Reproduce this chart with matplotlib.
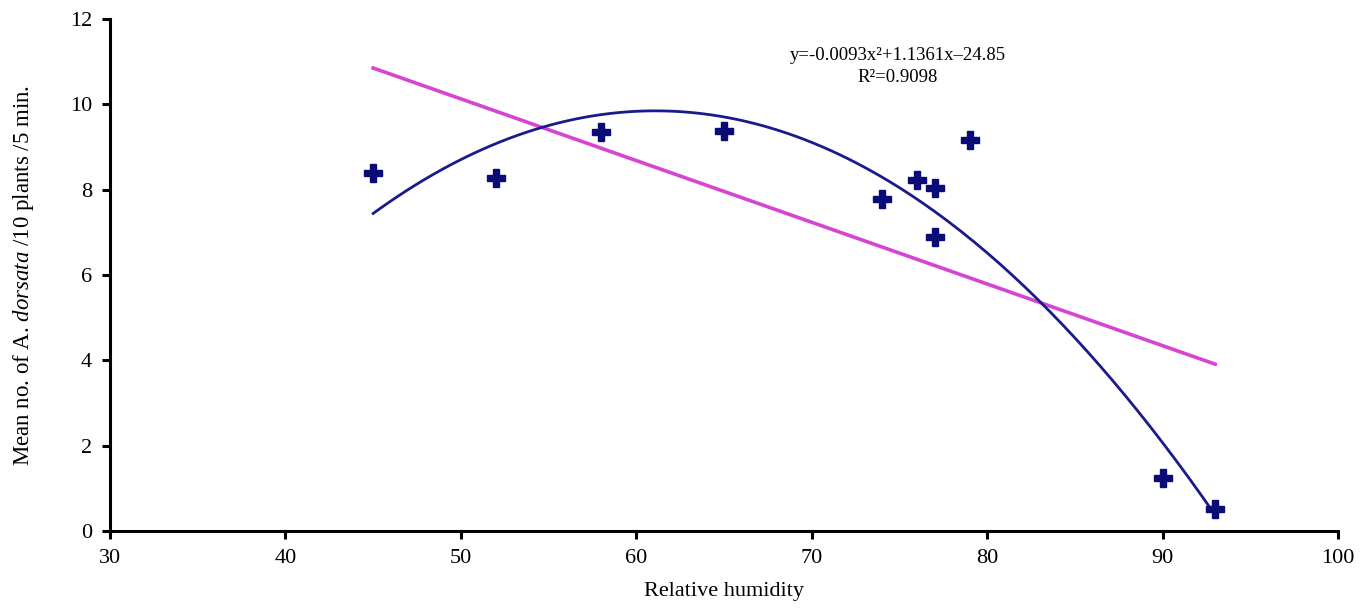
import numpy as np
import matplotlib
matplotlib.use("Agg")
import matplotlib.pyplot as plt

# ===== data =====
humidity = [45, 52, 58, 65, 74, 76, 77, 77, 79, 90, 93]
mean_bees = [8.4, 8.28, 9.35, 9.37, 7.78, 8.22, 8.04, 6.89, 9.17, 1.25, 0.52]

# quadratic trend as printed on the chart
quad_coef = [-0.0093, 1.1361, -24.85]
r_squared = 0.9098

x_ticks = [30, 40, 50, 60, 70, 80, 90, 100]
y_ticks = [0, 2, 4, 6, 8, 10, 12]

# ===== style =====
plt.rcParams['font.family'] = ['Liberation Serif', 'DejaVu Serif']
plt.rcParams['mathtext.fontset'] = 'custom'
plt.rcParams['mathtext.rm'] = 'Liberation Serif'
plt.rcParams['mathtext.it'] = 'Liberation Serif:italic'

fig = plt.figure(figsize=(13.62, 6.12), dpi=100)
ax = fig.add_axes([0.0808, 0.1324, 0.9016, 0.8366])

# ___trend lines___
xs = np.linspace(min(humidity), max(humidity), 200)
lin_coef = np.polyfit(humidity, mean_bees, 1)
ax.plot(xs, np.polyval(lin_coef, xs), color='#d445d4', lw=2.6, zorder=2)
ax.plot(xs, np.polyval(quad_coef, xs), color='#1a1a8c', lw=2.0, zorder=3)

# ___points___
ax.plot(humidity, mean_bees, linestyle='none', marker='P', markersize=13,
        color='#0b0b78', markeredgecolor='#0b0b78', zorder=4)

ax.text(74.9, 11.15, 'y=-0.0093x\u00b2+1.1361x\u201324.85', ha='center', va='center', fontsize=13.5)
ax.text(74.9, 10.62, 'R\u00b2=%.4f' % r_squared, ha='center', va='center', fontsize=13.5)

ax.set_xlim(30, 100)
ax.set_ylim(0, 12)
ax.set_xticks(x_ticks)
ax.set_yticks(y_ticks)

for side in ['top', 'right']:
    ax.spines[side].set_visible(False)
for side in ['left', 'bottom']:
    ax.spines[side].set_linewidth(2.2)
ax.tick_params(axis='both', direction='out', length=6, width=2.2, labelsize=16, pad=7)

ax.set_xlabel('Relative humidity', fontsize=16, labelpad=10)
ax.set_ylabel(r'Mean no. of A. $\mathit{dorsata}$ /10 plants /5 min.', fontsize=16.5, labelpad=24)

plt.savefig('out.png', dpi=100)
